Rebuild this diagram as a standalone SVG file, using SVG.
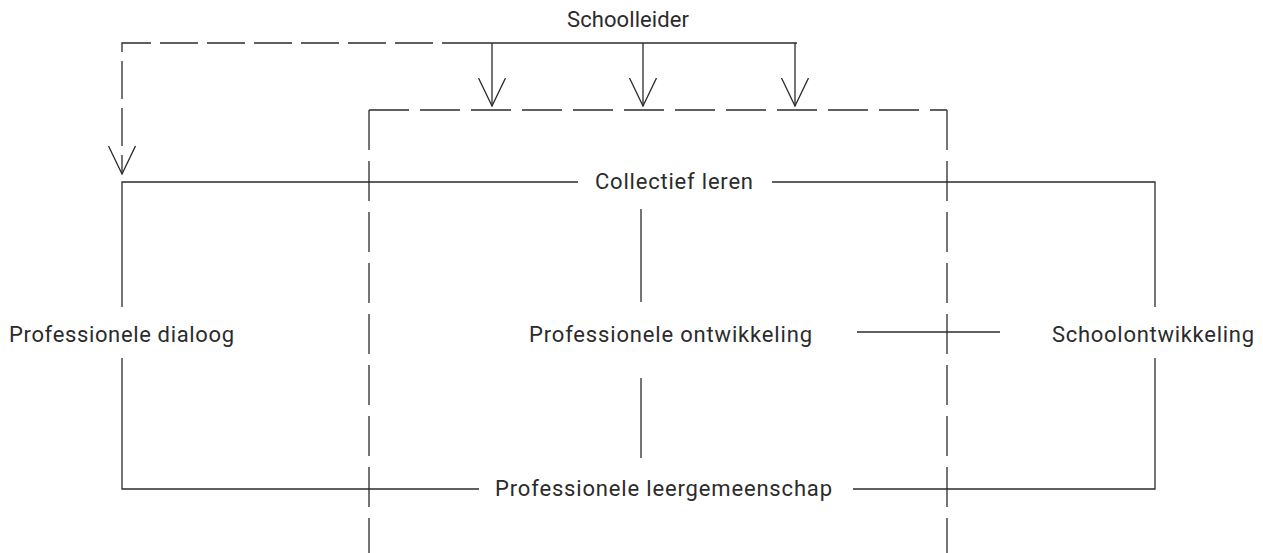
<svg xmlns="http://www.w3.org/2000/svg" width="1263" height="553" viewBox="0 0 1263 553">
<style>
.t{font-family:Roboto,"Liberation Sans",sans-serif;font-size:22px;fill:#2b2b2b}
.s{fill:none;stroke:#2b2b2b;stroke-width:1.3}
.d{fill:none;stroke:#2b2b2b;stroke-width:1.3;stroke-dasharray:40 11}
.d2{fill:none;stroke:#2b2b2b;stroke-width:1.3;stroke-dasharray:38 9}
.ah{fill:none;stroke:#2b2b2b;stroke-width:1.3}
</style>
<defs>
<marker id="arr" viewBox="0 0 30 30" refX="28" refY="14" markerWidth="30" markerHeight="30" markerUnits="userSpaceOnUse" orient="auto">
<path class="ah" d="M0,0.5 L28,14 L0,27.5"/>
</marker>
</defs>
<rect width="1263" height="553" fill="#ffffff"/>
<g id="scope">
<line class="d" x1="369" y1="110" x2="947" y2="110"/>
<line class="d" x1="369" y1="110" x2="369" y2="553"/>
<line class="d" x1="947" y1="110" x2="947" y2="553"/>
</g>
<g id="connectors">
<path class="d2" d="M480,43 H122 V174" marker-end="url(#arr)"/>
<path class="s" d="M480,43 H797"/>
<line class="s" x1="492" y1="43" x2="492" y2="106" marker-end="url(#arr)"/>
<line class="s" x1="643" y1="43" x2="643" y2="106" marker-end="url(#arr)"/>
<line class="s" x1="795" y1="43" x2="795" y2="106" marker-end="url(#arr)"/>
<path class="s" d="M578,182 H122 V307"/>
<path class="s" d="M772,182 H1155 V307"/>
<path class="s" d="M122,358 V489 H479"/>
<path class="s" d="M1155,358 V489 H853"/>
<line class="s" x1="641" y1="209" x2="641" y2="302"/>
<line class="s" x1="641" y1="378" x2="641" y2="458"/>
<line class="s" x1="857" y1="332" x2="1000" y2="332"/>
</g>
<g id="schoolleider"><text class="t" x="567" y="27" textLength="122">Schoolleider</text></g>
<g id="collectief-leren"><text class="t" x="595" y="189" textLength="158">Collectief leren</text></g>
<g id="professionele-dialoog"><text class="t" x="9" y="342" textLength="225">Professionele dialoog</text></g>
<g id="professionele-ontwikkeling"><text class="t" x="529" y="342" textLength="283">Professionele ontwikkeling</text></g>
<g id="schoolontwikkeling"><text class="t" x="1052" y="342" textLength="202">Schoolontwikkeling</text></g>
<g id="professionele-leergemeenschap"><text class="t" x="495" y="496" textLength="337">Professionele leergemeenschap</text></g>
</svg>
